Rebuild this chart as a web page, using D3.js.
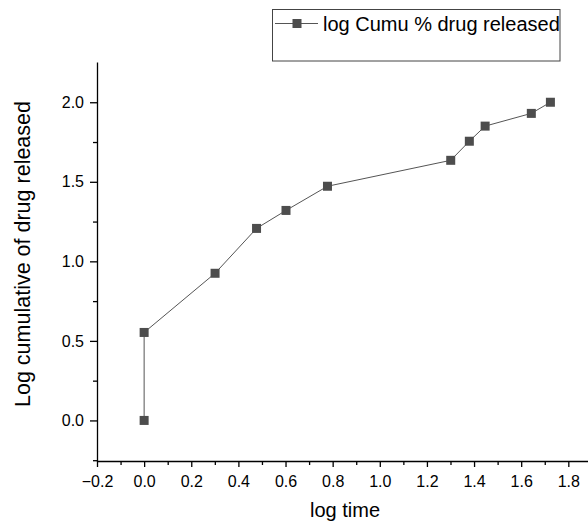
<!DOCTYPE html>
<html><head><meta charset="utf-8">
<script src="https://cdn.jsdelivr.net/npm/d3@7"></script>
<style>body{margin:0;background:#fff}svg{display:block;font-family:"Liberation Sans",Arial,sans-serif}</style>
</head><body><svg id="c" width="588" height="522"></svg>
<script>
const logTime = [0, 0, 0.301, 0.477, 0.602, 0.778, 1.301, 1.380, 1.447, 1.643, 1.724];
const logCumu = [0, 0.553, 0.925, 1.207, 1.320, 1.472, 1.635, 1.755, 1.850, 1.930, 2.000];
const xTicks = [-0.2, 0.0, 0.2, 0.4, 0.6, 0.8, 1.0, 1.2, 1.4, 1.6, 1.8];
const yTicks = [0.0, 0.5, 1.0, 1.5, 2.0];
const seriesName = "log Cumu % drug released";

const svg = d3.select("#c");
const x = d3.scaleLinear().domain([-0.2, 1.892]).range([97, 590]);
const y = d3.scaleLinear().domain([-0.255, 2.253]).range([461, 62]);

const fmt = d3.format(".1f");
svg.append("g").attr("transform", "translate(0,461)")
  .call(d3.axisBottom(x).tickValues(xTicks).tickFormat(fmt).tickSize(6).tickPadding(9).tickSizeOuter(0));
const xMinor = d3.range(-0.1, 1.9, 0.2);
svg.append("g").attr("transform", "translate(0,461)")
  .call(d3.axisBottom(x).tickValues(xMinor).tickFormat("").tickSize(4).tickSizeOuter(0))
  .select(".domain").remove();
svg.append("g").attr("transform", "translate(97,0)")
  .call(d3.axisLeft(y).tickValues(yTicks).tickFormat(fmt).tickSize(7).tickPadding(6).tickSizeOuter(0));
const yMinor = [-0.25, 0.25, 0.75, 1.25, 1.75];
svg.append("g").attr("transform", "translate(97,0)")
  .call(d3.axisLeft(y).tickValues(yMinor).tickFormat("").tickSize(4).tickSizeOuter(0))
  .select(".domain").remove();
svg.selectAll(".tick text").attr("font-size", 16).attr("fill", "#000")
  .attr("font-family", '"Liberation Sans",Arial,sans-serif');
svg.selectAll(".domain, .tick line").attr("stroke", "#000").attr("stroke-width", 1.3);

svg.append("text").attr("x", 345).attr("y", 517).attr("text-anchor", "middle")
  .attr("font-size", 20).text("log time");
svg.append("text").attr("transform", "translate(30,254) rotate(-90)").attr("text-anchor", "middle")
  .attr("font-size", 21.5).text("Log cumulative of drug released");

const pts = logTime.map((t, i) => [t, logCumu[i]]);
svg.append("path").datum(pts)
  .attr("d", d3.line().x(d => x(d[0])).y(d => y(d[1])))
  .attr("fill", "none").attr("stroke", "#555").attr("stroke-width", 1);
const ms = 9;
svg.selectAll("rect.m").data(pts).join("rect").attr("class", "m")
  .attr("x", d => x(d[0]) - ms/2).attr("y", d => y(d[1]) - ms/2)
  .attr("width", ms).attr("height", ms).attr("fill", "#4d4d4d");

// legend
const lg = svg.append("g");
lg.append("rect").attr("x", 272.5).attr("y", 9.5).attr("width", 287.5).attr("height", 51.5)
  .attr("fill", "#fff").attr("stroke", "#444").attr("stroke-width", 1);
lg.append("line").attr("x1", 275).attr("x2", 318).attr("y1", 23.5).attr("y2", 23.5)
  .attr("stroke", "#555").attr("stroke-width", 1);
lg.append("rect").attr("x", 297 - ms/2).attr("y", 23.5 - ms/2).attr("width", ms).attr("height", ms).attr("fill", "#4d4d4d");
lg.append("text").attr("x", 323).attr("y", 30.5).attr("font-size", 20).text(seriesName);
</script></body></html>
